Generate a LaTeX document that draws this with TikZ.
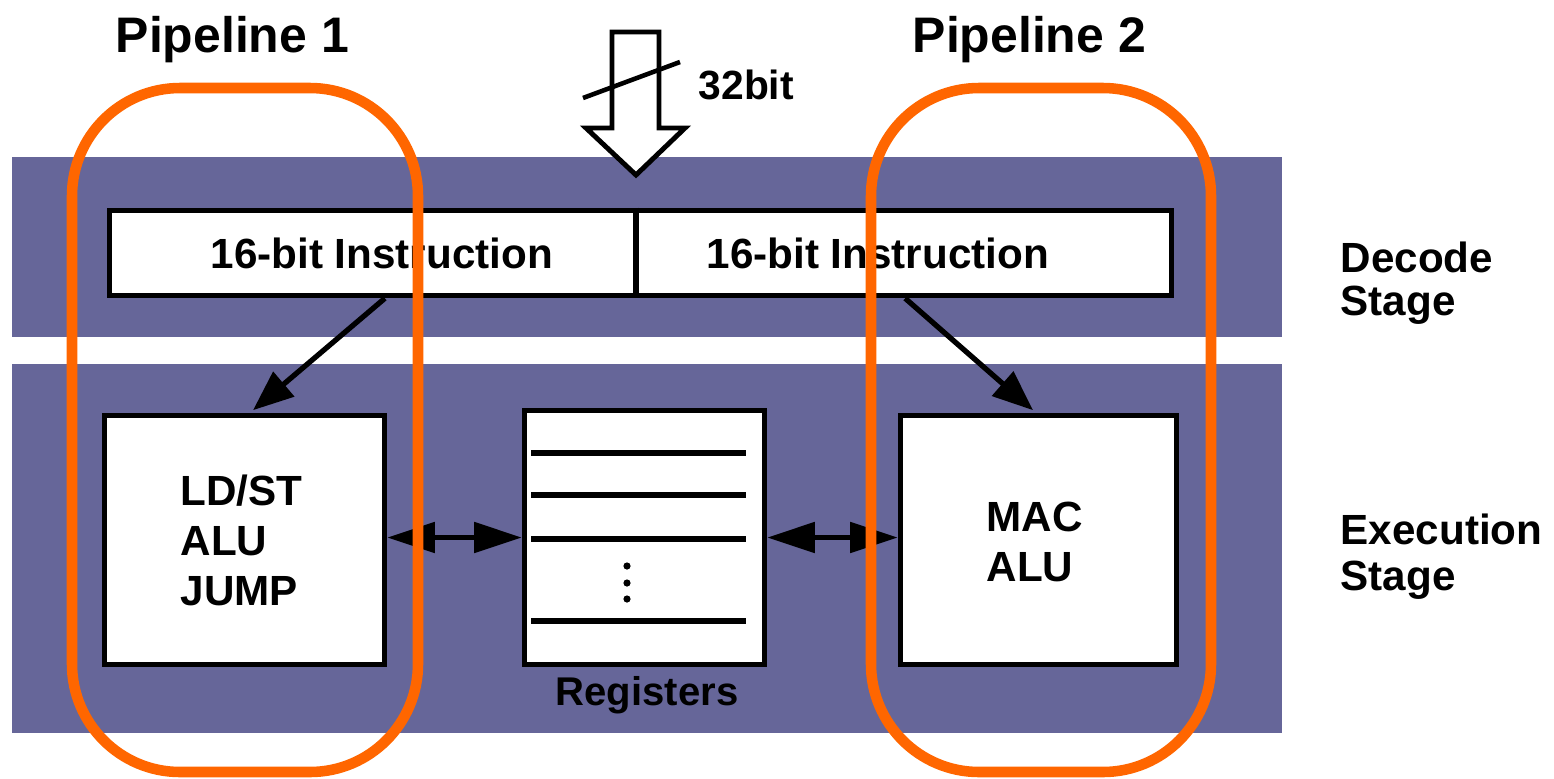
\documentclass[tikz,border=0pt]{standalone}
\usepackage{fontspec}
\setmainfont{Liberation Sans}
\usetikzlibrary{arrows.meta,fit}
\definecolor{stageband}{HTML}{666699}
\definecolor{pipeorange}{HTML}{FF6600}
\tikzset{
  unit/.style={draw=black, fill=white, line width=1.6pt, inner sep=0pt},
  pipe/.style={draw=pipeorange, line width=3pt, rounded corners=1.08cm, inner sep=0pt},
  lbl/.style={inner sep=0pt, font=\fontsize{12}{14.2}\selectfont\bfseries},
  stagelbl/.style={inner sep=0pt, align=left, anchor=base west},
  title/.style={inner sep=0pt, anchor=base west, font=\fontsize{14.2}{17}\selectfont\bfseries},
  conn/.style={line width=1.5pt, -{Triangle[length=11.5pt,width=9pt]}},
  dconn/.style={line width=1.5pt, {Triangle[length=13.5pt,width=8.5pt]}-{Triangle[length=13.5pt,width=8.5pt]}},
  regline/.style={line width=1.6pt}
}
\begin{document}
\begin{tikzpicture}[x=0.01cm, y=-0.01cm]
\useasboundingbox (0,0) rectangle (1554,778);

% stage bands
\fill[stageband] (12,157) rectangle (1282,337);
\fill[stageband] (12,364) rectangle (1282,733);

% 32-bit fetch arrow
\draw[line width=1.4pt, fill=white, line join=miter]
  (612,32) -- (659,32) -- (659,128) -- (685,128) -- (636,175)
  -- (586,128) -- (612,128) -- cycle;
\draw[line width=1.3pt] (583,98) -- (680,62);
\node[lbl, anchor=base west, font=\fontsize{11.6}{13}\selectfont\bfseries] (width) at (698,99) {32bit};

% instruction word
\node[unit, fit={(109.5,210.5) (1171.5,295.5)}] (instr) {};
\coordinate (split) at (636,250);
\draw[line width=1.6pt] (split |- instr.north) -- (split |- instr.south);
\node[lbl, anchor=base west] (ins1) at (210,268) {16-bit Instruction};
\node[lbl, anchor=base west] (ins2) at (706,268) {16-bit Instruction};

% execution units and register file
\node[unit, fit={(104.5,415.5) (384.5,664.5)}] (ldst) {};
\node[unit, fit={(524.5,410.5) (764.5,664.5)}] (regs) {};
\node[unit, fit={(900.5,415.5) (1176.5,664.5)}] (mac) {};

\node[lbl, align=left, anchor=base west] (ldsttxt) at (180,605) {LD/ST\\ALU\\JUMP};
\node[lbl, align=left, anchor=base west] (mactxt) at (986,581) {MAC\\ALU};

\foreach \yy in {453,495,539,621}
  \draw[regline] (531,\yy) -- (746,\yy);
\foreach \yy in {566,583,599}
  \fill (627,\yy) circle (3.6);
\node[lbl, anchor=base, font=\fontsize{11.4}{13}\selectfont\bfseries] (reglbl) at (647,705) {Registers};

% connections
\draw[conn] ([xshift=-2.555cm]instr.south) -- ([shift={(0.085cm,0.025cm)}]ldst.north);
\draw[conn] ([xshift=2.645cm]instr.south) -- ([shift={(-0.055cm,0.025cm)}]mac.north);
\draw[dconn] (ldst.east |- regs.west) -- (regs.west);
\draw[dconn] (regs.east) -- (mac.west |- regs.east);

% stage names
\node[lbl, stagelbl, font=\fontsize{12}{12.2}\selectfont\bfseries] (dec) at (1340,315) {Decode\\Stage};
\node[lbl, stagelbl, font=\fontsize{12}{12.8}\selectfont\bfseries] (exe) at (1340,590) {Execution\\Stage};

% pipelines
\node[pipe, fit={(72,88) (418,772)}] (pipe1) {};
\node[pipe, fit={(871,88) (1211,772)}] (pipe2) {};
\node[title] (t1) at (115,52) {Pipeline 1};
\node[title] (t2) at (912,52) {Pipeline 2};
\end{tikzpicture}
\end{document}
